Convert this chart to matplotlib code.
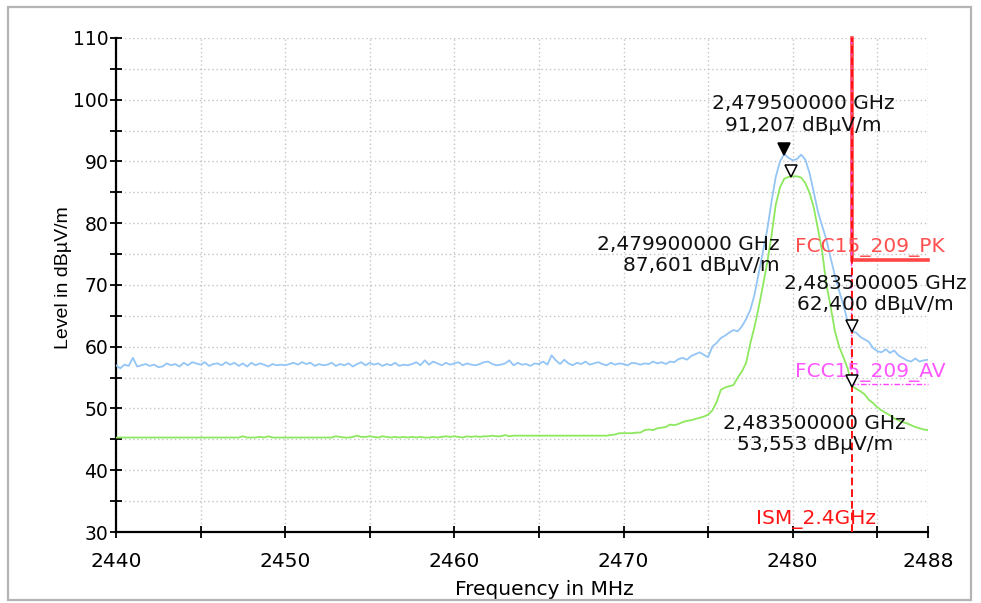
import matplotlib
matplotlib.use("Agg")
import matplotlib.pyplot as plt
import matplotlib.transforms as mtransforms
from matplotlib.patches import Rectangle
import numpy as np

# ---------------- data ----------------
freq_start = 2440.0
freq_step = 0.25

peak_trace = [
    57.0, 56.5, 57.1, 56.9,  58.2, 56.8, 57.0, 57.2,  56.9, 57.1, 56.7, 56.8,
    57.3, 57.0, 57.2, 56.8,  57.4, 57.0, 57.5, 57.3,  57.1, 57.5, 56.9, 57.2,
    57.3, 57.0, 57.5, 57.1,  57.4, 56.9, 57.3, 56.8,  57.4, 57.0, 57.3, 57.1,
    56.8, 57.2, 57.0, 57.1,  57.0, 57.2, 57.4, 57.1,  57.5, 57.2, 57.4, 56.9,
    57.2, 57.0, 57.1, 57.4,  56.9, 57.2, 57.0, 57.3,  56.8, 57.2, 57.5, 57.0,
    57.4, 57.1, 57.3, 56.9,  57.2, 57.0, 57.4, 56.9,  57.1, 57.0, 57.2, 57.5,
    57.0, 57.8, 57.1, 57.6,  57.3, 57.0, 57.4, 57.1,  57.3, 57.5, 57.0, 57.3,
    57.1, 57.0, 57.2, 57.5,  57.6, 57.2, 57.0, 57.1,  57.3, 57.8, 57.0, 57.4,
    57.1, 57.2, 56.9, 57.3,  57.2, 57.6, 57.1, 58.6,  57.8, 57.2, 57.9, 57.3,
    57.0, 57.4, 57.2, 57.6,  57.1, 57.3, 57.5, 57.2,  57.0, 57.4, 57.1, 57.3,
    57.2, 57.0, 57.4, 57.3,  57.1, 57.3, 57.2, 57.6,  57.3, 57.5, 57.2, 57.6,
    57.5, 58.0, 58.2, 57.9,  58.5, 58.8, 59.1, 58.7,  58.3, 60.0, 60.6, 61.4,
    61.8, 62.3, 62.7, 62.5,  63.3, 64.5, 66.0, 68.5,  72.0, 75.5, 79.0, 83.5,
    87.5, 90.0, 91.2, 90.6,  90.2, 90.4, 91.1, 90.3,  88.1, 85.0, 81.8, 79.5,
    77.3, 74.3, 71.5, 69.0,  66.8, 64.0, 62.4, 62.3,  61.6, 61.2, 60.8, 59.8,
    59.3, 59.1, 59.6, 59.0,  59.4, 58.6, 58.2, 57.8,  57.6, 58.1, 57.6, 57.8,
    57.9,
]

avg_trace = [
    45.3, 45.3, 45.3, 45.3,  45.3, 45.3, 45.3, 45.3,  45.3, 45.3, 45.3, 45.3,
    45.3, 45.3, 45.3, 45.3,  45.3, 45.3, 45.3, 45.3,  45.3, 45.3, 45.3, 45.3,
    45.3, 45.3, 45.3, 45.3,  45.3, 45.3, 45.5, 45.3,  45.3, 45.3, 45.4, 45.3,
    45.5, 45.3, 45.3, 45.3,  45.3, 45.3, 45.3, 45.3,  45.3, 45.3, 45.3, 45.3,
    45.3, 45.3, 45.3, 45.3,  45.5, 45.4, 45.3, 45.3,  45.4, 45.6, 45.4, 45.4,
    45.5, 45.4, 45.3, 45.5,  45.4, 45.3, 45.4, 45.3,  45.4, 45.3, 45.4, 45.3,
    45.4, 45.3, 45.3, 45.4,  45.3, 45.4, 45.5, 45.4,  45.5, 45.4, 45.3, 45.5,
    45.4, 45.5, 45.4, 45.5,  45.5, 45.6, 45.5, 45.5,  45.7, 45.5, 45.6, 45.6,
    45.6, 45.6, 45.6, 45.6,  45.6, 45.6, 45.6, 45.6,  45.6, 45.6, 45.6, 45.6,
    45.6, 45.6, 45.6, 45.6,  45.6, 45.6, 45.6, 45.6,  45.6, 45.7, 45.8, 46.0,
    46.0, 46.0, 46.0, 46.1,  46.1, 46.5, 46.6, 46.5,  46.8, 46.9, 47.0, 47.4,
    47.3, 47.5, 47.8, 48.0,  48.1, 48.3, 48.5, 48.7,  49.0, 49.7, 51.0, 53.0,
    53.4, 53.6, 53.8, 55.0,  56.0, 57.4, 60.6, 63.3,  66.5, 70.0, 73.7, 78.0,
    83.0, 85.8, 87.2, 87.5,  87.6, 87.6, 87.4, 86.5,  84.9, 82.5, 79.0, 75.3,
    70.0, 66.4, 62.5, 60.0,  58.3, 56.5, 53.6, 53.2,  52.8, 52.3, 51.4, 50.9,
    50.2, 49.7, 49.3, 48.9,  48.4, 48.1, 47.8, 47.6,  47.3, 47.0, 46.8, 46.6,
    46.5,
]

freqs = freq_start + freq_step * np.arange(len(peak_trace))

# markers: (freq MHz, level, filled, label lines)
marker_freqs = [2479.5, 2479.9, 2483.5, 2483.5]
marker_levels = [91.207, 87.601, 62.400, 53.553]
marker_filled = [True, False, False, False]
marker_labels = ["2,479500000 GHz\n91,207 dBµV/m",
                 "2,479900000 GHz\n87,601 dBµV/m",
                 "2,483500005 GHz\n62,400 dBµV/m",
                 "2,483500000 GHz\n53,553 dBµV/m"]
label_pos = [(2480.6, 97.6, "center"), (2479.2, 74.9, "right"),
             (2484.9, 68.5, "center"), (2481.3, 45.9, "center")]

band_edge = 2483.5
pk_limit = 74.0
av_limit = 54.0
x_max = 2488.0
y_min, y_max = 30, 110

x_ticks = [2440, 2445, 2450, 2455, 2460, 2465, 2470, 2475, 2480, 2485, 2488]
x_ticklabels = ["2440", "", "2450", "", "2460", "", "2470", "", "2480", "", "2488"]
y_ticks = list(range(30, 111, 5))
y_ticklabels = [str(v) if v % 10 == 0 else "" for v in y_ticks]

# ---------------- figure ----------------
fig = plt.figure(figsize=(9.81, 6.03), dpi=100)
fig.patch.set_facecolor("white")
W, H = 981, 603
ax = fig.add_axes([116 / W, 1 - 532 / H, (928 - 116) / W, (532 - 38) / H])

# outer frame
fig.patches.append(Rectangle((8 / W, 1 - 600 / H), 963 / W, 593 / H,
                             transform=fig.transFigure, fill=False,
                             edgecolor="#b4b4b4", linewidth=1.6, zorder=0))

blue = "#93c5f5"
green = "#8ee85e"

ax.plot(freqs, peak_trace, color=blue, lw=1.3, zorder=3)
ax.plot(freqs, avg_trace, color=green, lw=1.3, zorder=3)

# limit lines
ax.plot([band_edge, band_edge, x_max], [y_max, pk_limit, pk_limit],
        color="#ff4545", lw=2.6, solid_joinstyle="miter", zorder=4, clip_on=False)
ax.plot([band_edge - 0.06, band_edge - 0.06, x_max], [y_max, av_limit, av_limit],
        color="#ff44ff", lw=1.0, linestyle=(0, (4, 1.5, 1, 1.5)), zorder=4, clip_on=False)
ax.plot([band_edge, band_edge], [y_min, y_max], color="#ff1010", lw=1.4,
        linestyle=(0, (4, 2)), zorder=5)

txt_font = "DejaVu Sans"
ax.text(2480.14, 76.0, "FCC15_209_PK", color="#ff5050", fontsize=14.5,
        family=txt_font, ha="left", va="center", clip_on=False, zorder=6)
ax.text(2480.14, 55.9, "FCC15_209_AV", color="#ff55ff", fontsize=14.5,
        family=txt_font, ha="left", va="center", clip_on=False, zorder=6)
ax.text(2481.4, 32.0, "ISM_2.4GHz", color="#ff1515", fontsize=14.5,
        family=txt_font, ha="center", va="center", zorder=6)

# markers
offset = mtransforms.ScaledTranslation(0, 0.055, fig.dpi_scale_trans)
for f, l, filled in zip(marker_freqs, marker_levels, marker_filled):
    ax.plot([f], [l], marker="v", markersize=8,
            markerfacecolor="black" if filled else "white",
            markeredgecolor="black", markeredgewidth=1.1, linestyle="none",
            transform=ax.transData + offset, zorder=7)

for text, (x, y, ha) in zip(marker_labels, label_pos):
    ax.text(x, y, text, fontsize=14.5, family=txt_font, ha=ha, va="center",
            multialignment=ha, linespacing=1.15, color="#111111", zorder=8,
            clip_on=False)

# axes styling
ax.set_xlim(freq_start, x_max)
ax.set_ylim(y_min, y_max)
ax.set_xticks(x_ticks)
ax.set_xticklabels(x_ticklabels)
ax.set_yticks(y_ticks)
ax.set_yticklabels(y_ticklabels)
for s in ["top", "right"]:
    ax.spines[s].set_visible(False)
for s in ["left", "bottom"]:
    ax.spines[s].set_linewidth(1.6)
    ax.spines[s].set_color("black")
ax.tick_params(axis="both", direction="inout", length=9, width=1.3, color="black")
ax.tick_params(axis="x", pad=10, labelsize=14.5)
ax.tick_params(axis="y", pad=1, labelsize=13.5)
for lab in ax.get_xticklabels() + ax.get_yticklabels():
    lab.set_family(txt_font)
ax.grid(True, color="#c4c4c4", linestyle=(0, (1, 2)), linewidth=1.0)
ax.set_axisbelow(True)

ax.set_xlabel("Frequency in MHz", fontsize=14.5, family=txt_font)
ax.xaxis.set_label_coords(0.528, -0.097)
ax.set_ylabel("Level in dBµV/m", fontsize=14, family="Liberation Sans")
ax.yaxis.set_label_coords(-0.054, 0.514)

fig.savefig("out.png", dpi=100)
